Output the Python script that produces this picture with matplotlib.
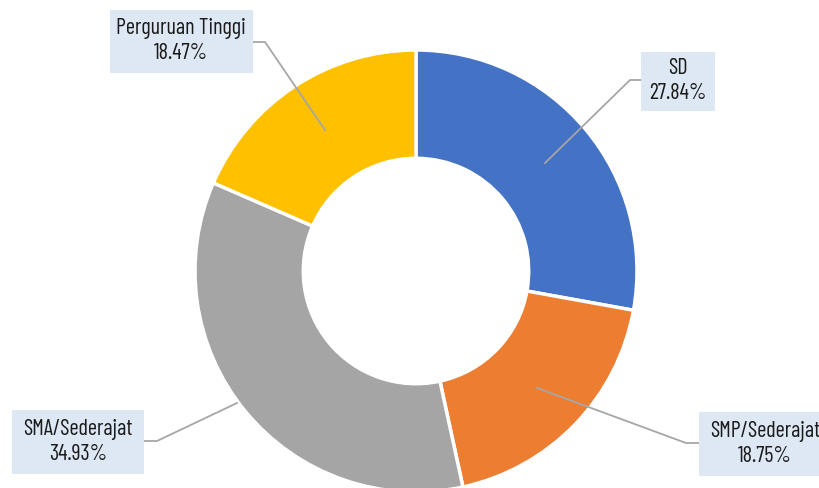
import matplotlib.pyplot as plt

# Data
labels = ['SD', 'SMP/Sederajat', 'SMA/Sederajat', 'Perguruan Tinggi']
values = [27.84, 18.75, 34.93, 18.47]
colors = ['#4472C4', '#ED7D31', '#A5A5A5', '#FFC000']

plt.rcParams['font.family'] = ['Barlow Condensed', 'DejaVu Sans']

fig = plt.figure(figsize=(8.2, 4.88), dpi=100)
ax = fig.add_axes([0, 0, 1, 1])

cx, cy, r = 416, 217, 221
ax.pie(values, colors=colors, startangle=90, counterclock=False,
       center=(cx, cy), radius=r, frame=True,
       wedgeprops=dict(width=r * 0.49, edgecolor='white', linewidth=2.5))
ax.set_xlim(0, 820)
ax.set_ylim(0, 488)
ax.set_aspect('equal')
ax.axis('off')

# label text position, elbow point, arrow tip (y measured from top)
label_pos = [(678, 81), (765, 444), (78, 442), (181, 41)]
elbows = [(630, 80), (686, 443), (157, 441), (265, 42)]
tips = [(545, 163), (537, 388), (237, 403), (325, 130)]
boxes = [(641, 715, 52, 111), (699, 830, 412, 476), (12, 144, 410, 474), (110, 253, 10, 73)]

for lab, v, (tx, ty), (ex, ey), (px, py), (x0, x1, y0, y1) in zip(
        labels, values, label_pos, elbows, tips, boxes):
    ax.add_patch(plt.Rectangle((x0, 488 - y1), x1 - x0, y1 - y0,
                               facecolor='#DDE8F4', edgecolor='none', zorder=3,
                               clip_on=False))
    edge_x = x0 if ex < x0 else x1
    ax.plot([edge_x, ex, px], [488 - ey, 488 - ey, 488 - py],
            color='#A6A6A6', lw=1.3, zorder=2)
    ax.text(tx, 488 - ty, f'{lab}\n{v:.2f}%', ha='center', va='center',
            fontsize=16, color='#1a1a1a', linespacing=1.3, zorder=4)

fig.savefig('out.png', dpi=100)
